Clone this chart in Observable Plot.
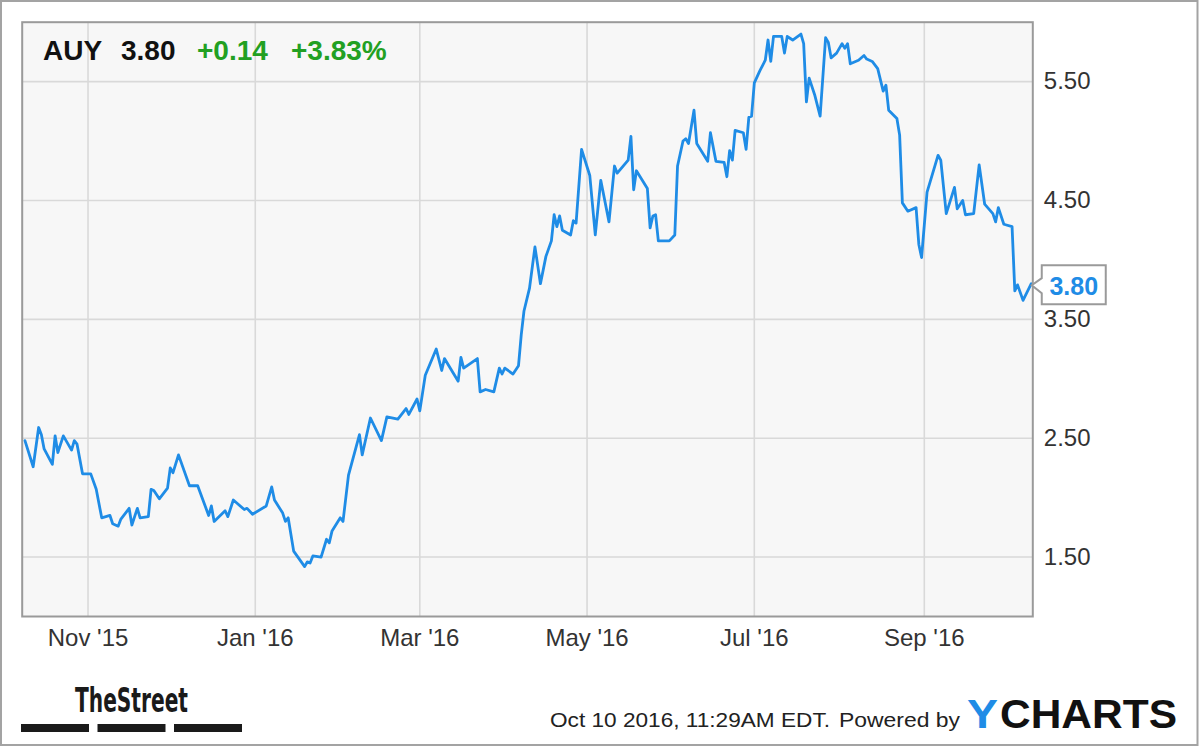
<!DOCTYPE html>
<html><head><meta charset="utf-8">
<script src="https://cdn.jsdelivr.net/npm/d3@7"></script>
<script src="https://cdn.jsdelivr.net/npm/@observablehq/plot@0.6"></script>
<style>html,body{margin:0;padding:0;background:#fff;} svg{display:block}</style>
</head><body><div id="chart"></div>
<script>
const ticker = "AUY";
const lastPrice = "3.80";
const change = "+0.14";
const changePct = "+3.83%";
const timestamp = "Oct 10 2016, 11:29AM EDT.";
const poweredBy = "Powered by";

const dates = [
"2015-10-09","2015-10-12","2015-10-14","2015-10-15","2015-10-16","2015-10-19","2015-10-20","2015-10-21","2015-10-23","2015-10-26",
"2015-10-27","2015-10-28","2015-10-30","2015-11-02","2015-11-04","2015-11-06","2015-11-09","2015-11-10","2015-11-12","2015-11-13",
"2015-11-16","2015-11-17","2015-11-19","2015-11-20","2015-11-23","2015-11-24","2015-11-25","2015-11-27","2015-11-30","2015-12-01",
"2015-12-02","2015-12-04","2015-12-08","2015-12-11","2015-12-15","2015-12-16","2015-12-17","2015-12-21","2015-12-22","2015-12-24",
"2015-12-28","2015-12-29","2015-12-31","2016-01-05","2016-01-07","2016-01-08","2016-01-11","2016-01-12","2016-01-13","2016-01-15",
"2016-01-19","2016-01-20","2016-01-21","2016-01-22","2016-01-25","2016-01-27","2016-01-28","2016-01-29","2016-02-01","2016-02-02",
"2016-02-04","2016-02-08","2016-02-09","2016-02-12","2016-02-16","2016-02-18","2016-02-22","2016-02-24","2016-02-25","2016-02-26",
"2016-02-29","2016-03-01","2016-03-03","2016-03-07","2016-03-09","2016-03-10","2016-03-15","2016-03-16","2016-03-17","2016-03-22",
"2016-03-23","2016-03-25","2016-03-28","2016-03-30","2016-03-31","2016-04-01","2016-04-04","2016-04-06","2016-04-07","2016-04-08",
"2016-04-10","2016-04-12","2016-04-14","2016-04-16","2016-04-18","2016-04-19","2016-04-20","2016-04-21","2016-04-22","2016-04-25",
"2016-04-26","2016-04-27","2016-04-29","2016-05-02","2016-05-04","2016-05-06","2016-05-09","2016-05-11","2016-05-12","2016-05-16",
"2016-05-17","2016-05-18","2016-05-19","2016-05-23","2016-05-24","2016-05-25","2016-05-26","2016-05-27","2016-05-31","2016-06-02",
"2016-06-03","2016-06-05","2016-06-06","2016-06-07","2016-06-09","2016-06-10","2016-06-14","2016-06-15","2016-06-17","2016-06-20",
"2016-06-21","2016-06-22","2016-06-23","2016-06-24","2016-06-27","2016-06-28","2016-06-29","2016-06-30","2016-07-01","2016-07-03",
"2016-07-05","2016-07-06","2016-07-07","2016-07-08","2016-07-11","2016-07-12","2016-07-13","2016-07-15","2016-07-18","2016-07-19",
"2016-07-20","2016-07-21","2016-07-23","2016-07-25","2016-07-27","2016-07-28","2016-07-29","2016-07-31","2016-08-02","2016-08-03",
"2016-08-04","2016-08-05","2016-08-08","2016-08-10","2016-08-11","2016-08-13","2016-08-15","2016-08-17","2016-08-18","2016-08-19",
"2016-08-22","2016-08-23","2016-08-24","2016-08-26","2016-08-29","2016-08-30","2016-08-31","2016-09-02","2016-09-06","2016-09-07",
"2016-09-09","2016-09-12","2016-09-13","2016-09-15","2016-09-16","2016-09-19","2016-09-21","2016-09-23","2016-09-26","2016-09-27",
"2016-09-28","2016-09-30","2016-10-03","2016-10-04","2016-10-05","2016-10-07","2016-10-10"
];
const closes = [
2.48,2.26,2.59,2.53,2.41,2.28,2.52,2.38,2.52,2.40,
2.48,2.45,2.20,2.20,2.07,1.83,1.85,1.78,1.76,1.82,
1.91,1.77,1.91,1.83,1.84,2.07,2.06,1.99,2.08,2.25,
2.21,2.36,2.10,2.10,1.85,1.93,1.80,1.89,1.84,1.98,
1.90,1.91,1.86,1.93,2.09,1.98,1.87,1.80,1.83,1.55,
1.42,1.46,1.45,1.51,1.50,1.65,1.62,1.72,1.83,1.80,
2.19,2.53,2.36,2.67,2.48,2.68,2.66,2.72,2.75,2.70,
2.83,2.73,3.03,3.25,3.07,3.17,2.98,3.18,3.09,3.17,
2.89,2.91,2.89,3.09,3.04,3.09,3.04,3.11,3.37,3.57,
3.76,4.11,3.80,4.03,4.16,4.38,4.28,4.37,4.25,4.21,
4.33,4.31,4.93,4.71,4.21,4.67,4.32,4.79,4.73,4.84,
5.04,4.59,4.75,4.60,4.27,4.37,4.38,4.16,4.16,4.21,
4.79,5.00,5.02,4.98,5.26,4.98,4.83,5.07,4.83,4.82,
4.70,4.92,4.84,5.09,5.07,4.93,5.20,5.21,5.49,5.59,
5.68,5.85,5.67,5.88,5.88,5.74,5.88,5.85,5.90,5.82,
5.33,5.53,5.39,5.21,5.87,5.83,5.70,5.74,5.82,5.78,
5.82,5.65,5.68,5.72,5.69,5.67,5.61,5.42,5.47,5.26,
5.19,5.05,4.48,4.41,4.44,4.13,4.02,4.57,4.88,4.84,
4.39,4.61,4.43,4.50,4.38,4.39,4.80,4.47,4.39,4.32,
4.44,4.30,4.28,3.74,3.79,3.66,3.80
];
const yTicks = [1.5, 2.5, 3.5, 4.5, 5.5];
const xTickDates = ["2015-11-01","2016-01-01","2016-03-01","2016-05-01","2016-07-01","2016-09-01"];
const xDomain = ["2015-10-08T00:00:00Z", "2016-10-10T13:30:00Z"];
const yDomain = [1, 6];

const toDate = s => new Date(s.length === 10 ? s + "T00:00:00Z" : s);
const data = dates.map((d, i) => ({date: toDate(d), close: closes[i]}));
const xTicks = xTickDates.map(toDate);
const fmtMonth = d3.utcFormat("%b '%y");

const BLUE = "#1f8ce6";
const GREEN = "#22a022";
const FONT = "'Liberation Sans', Arial, Helvetica, sans-serif";

const chart = Plot.plot({
  width: 1200,
  height: 747,
  marginLeft: 21.7,
  marginRight: 167.7,
  marginTop: 21.7,
  marginBottom: 131,
  style: {background: "#fff", fontFamily: FONT, color: "#333", overflow: "visible"},
  x: {type: "utc", domain: xDomain.map(toDate)},
  y: {domain: yDomain},
  marks: [
    Plot.frame({fill: "#f7f7f7", stroke: "none"}),
    Plot.gridY(yTicks, {stroke: "#d9d9d9", strokeOpacity: 1, strokeWidth: 1.6}),
    Plot.gridX(xTicks, {stroke: "#d9d9d9", strokeOpacity: 1, strokeWidth: 1.6}),
    Plot.line(data, {x: "date", y: "close", stroke: BLUE, strokeWidth: 2.8, strokeLinejoin: "round"}),
    Plot.frame({stroke: "#9a9a9a", strokeWidth: 2}),
    Plot.axisY(yTicks, {anchor: "right", tickSize: 0, tickPadding: 11, tickFormat: d3.format(".2f"), fontSize: 24, fill: "#333", label: null}),
    Plot.axisX(xTicks, {anchor: "bottom", tickSize: 0, tickPadding: 12, tickFormat: fmtMonth, fontSize: 24, fill: "#333", label: null})
  ]
});
document.getElementById("chart").appendChild(chart);

const svg = d3.select(chart);
const xs = chart.scale("x"), ys = chart.scale("y");

// outer border
svg.append("rect").attr("x", 1).attr("y", 1).attr("width", 1196.5).attr("height", 744)
  .attr("fill", "none").attr("stroke", "#a3a3a3").attr("stroke-width", 2);

// title
const title = svg.append("text").attr("x", 43).attr("y", 59.5).attr("text-anchor", "start")
  .attr("font-size", 28).attr("font-weight", "bold").attr("font-family", FONT);
title.append("tspan").attr("fill", "#111").text(ticker);
title.append("tspan").attr("x", 121).attr("fill", "#111").text(lastPrice);
title.append("tspan").attr("x", 197).attr("fill", GREEN).text(change);
title.append("tspan").attr("x", 291).attr("fill", GREEN).text(changePct);

// last value callout
const last = data[data.length - 1];
const px = xs.apply(last.date), py = ys.apply(last.close);
svg.append("path")
  .attr("d", `M${px + 11},${py - 5} V${py - 18} H${px + 75} V${py + 21} H${px + 11} V${py + 10} L${px + 1},${py + 2} Z`)
  .attr("fill", "#fff").attr("stroke", "#9a9a9a").attr("stroke-width", 2);
svg.append("text").attr("x", px + 43).attr("y", py + 12).attr("text-anchor", "middle")
  .attr("font-size", 25).attr("font-weight", "bold").attr("fill", BLUE).attr("font-family", FONT)
  .text(lastPrice);

// TheStreet logo
svg.append("text").attr("x", 75).attr("y", 712).attr("text-anchor", "start")
  .attr("font-size", 34).attr("font-weight", "bold")
  .attr("font-family", "'Liberation Sans Narrow', 'DejaVu Sans Condensed', sans-serif")
  .attr("textLength", 113).attr("lengthAdjust", "spacingAndGlyphs").attr("fill", "#1a1a1a")
  .text("TheStreet");
[21, 97.5, 174].forEach(bx => svg.append("rect").attr("x", bx).attr("y", 724).attr("width", 68).attr("height", 8).attr("fill", "#1a1a1a"));

// footer
svg.append("text").attr("x", 550).attr("y", 727).attr("text-anchor", "start").attr("font-size", 21)
  .attr("font-family", "'Liberation Sans Narrow', " + FONT)
  .attr("textLength", 280).attr("lengthAdjust", "spacingAndGlyphs").attr("fill", "#222")
  .text(timestamp);
svg.append("text").attr("x", 839).attr("y", 727).attr("text-anchor", "start").attr("font-size", 21)
  .attr("font-family", "'Liberation Sans Narrow', " + FONT)
  .attr("textLength", 121).attr("lengthAdjust", "spacingAndGlyphs").attr("fill", "#222")
  .text(poweredBy);
svg.append("text").attr("x", 967).attr("y", 728).attr("text-anchor", "start").attr("font-size", 40).attr("font-weight", "bold")
  .attr("font-family", FONT).attr("textLength", 31).attr("lengthAdjust", "spacingAndGlyphs")
  .attr("fill", BLUE).text("Y");
svg.append("text").attr("x", 1000).attr("y", 728).attr("text-anchor", "start").attr("font-size", 40).attr("font-weight", "bold")
  .attr("font-family", FONT).attr("textLength", 177).attr("lengthAdjust", "spacingAndGlyphs")
  .attr("fill", "#111").text("CHARTS");
</script>
</body></html>
